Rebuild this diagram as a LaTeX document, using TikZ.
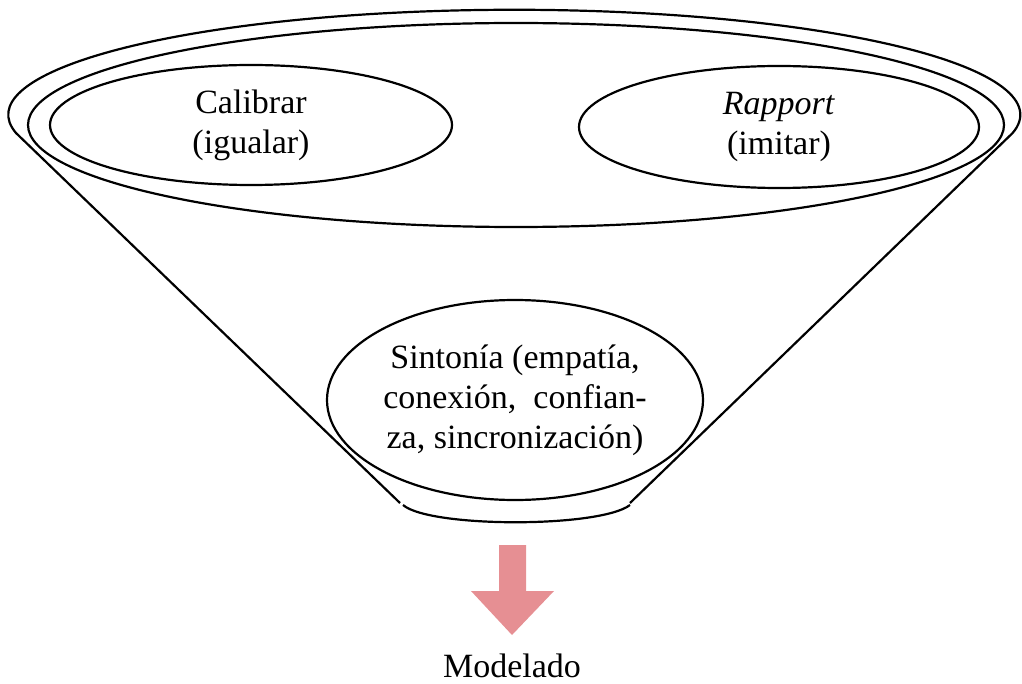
\documentclass[tikz,border=0pt]{standalone}
\usepackage{fontspec}
\setmainfont{Liberation Serif}
\usetikzlibrary{shapes.geometric}
\definecolor{arrowpink}{RGB}{230,143,147}

\begin{document}
\begin{tikzpicture}[x=.5pt,y=-.5pt,line width=1.1pt,
  bubble/.style={draw,ellipse,inner sep=0pt,align=center,font=\fontsize{17}{20}\selectfont}]
\useasboundingbox (0,0) rectangle (1022,684);
% funnel
\draw (400,503) -- (16,133) arc[start angle=170,end angle=370,x radius=506,y radius=105] -- (630,503);
\draw (403,505) .. controls (430,528) and (600,528) .. (630,505);
\draw (516,125) ellipse [x radius=488,y radius=102];
% bubbles
\node[bubble,minimum width=201pt,minimum height=60pt] (calibrar) at (251,125) {Calibrar\\(igualar)};
\node[bubble,minimum width=200pt,minimum height=61pt] (rapport) at (779,127) {\textit{Rapport}\\(imitar)};
\node[bubble,minimum width=188pt,minimum height=100pt] (sintonia) at (515,400) {Sinton\'ia (empat\'ia,\\conexi\'on,\ \ confian-\\za, sincronizaci\'on)};
% arrow
\fill[arrowpink] (499,545) -- (526,545) -- (526,591) -- (554,591) -- (512,635) -- (471,591) -- (499,591) -- cycle;
\node[anchor=base,inner sep=0pt,font=\fontsize{17}{20}\selectfont] (modelado) at (512,677) {Modelado};
\end{tikzpicture}
\end{document}
